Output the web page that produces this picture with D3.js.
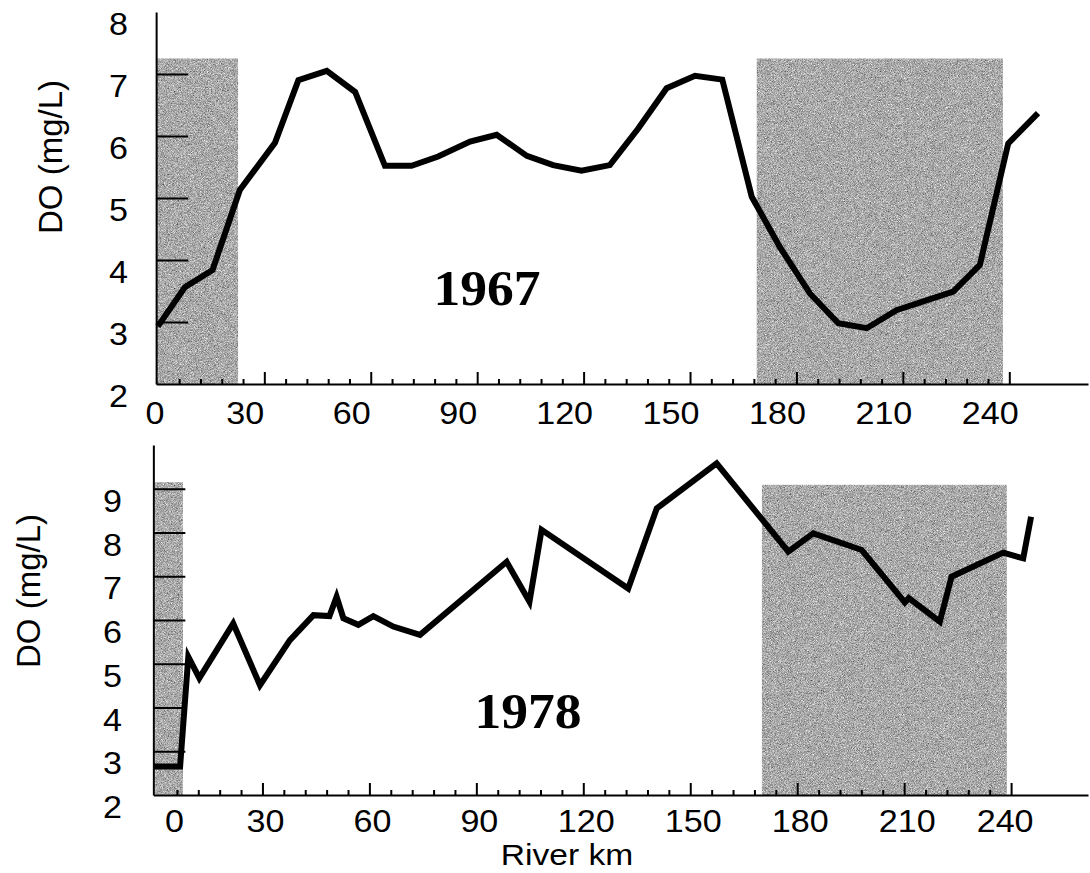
<!DOCTYPE html>
<html>
<head>
<meta charset="utf-8">
<script src="https://cdn.jsdelivr.net/npm/d3@7"></script>
<style>
  body { margin: 0; background: #fff; }
  svg { display: block; }
  .tick-label { font-family: "Liberation Sans", Arial, Helvetica, sans-serif; font-size: 31px; fill: #000; }
  .axis-title { font-family: "Liberation Sans", Arial, Helvetica, sans-serif; font-size: 33px; fill: #000; }
  .year { font-family: "Liberation Serif", "Times New Roman", serif; font-size: 51px; font-weight: bold; fill: #000; }
  .domain, .tick line { stroke: #000; stroke-width: 2; }
  .line { fill: none; stroke: #000; stroke-width: 6; stroke-linejoin: miter; stroke-linecap: butt; }
</style>
</head>
<body>
<svg width="1090" height="873"></svg>
<script>
// 1967 survey: river km and dissolved oxygen
var km1967 = [0, 7.6, 15.4, 23.1, 33.0, 39.6, 47.6, 55.6, 64.0, 71.5, 79.0, 88.0, 95.5, 104.0,
  111.4, 119.4, 127.4, 135.4, 143.4, 151.4, 159.1, 167.4, 175.3, 183.8, 191.8, 199.8,
  208.2, 216.2, 224.2, 231.7, 239.7, 248.1];
var do1967 = [2.93, 3.56, 3.84, 5.13, 5.89, 6.90, 7.05, 6.71, 5.52, 5.52, 5.67, 5.91, 6.02, 5.68,
  5.53, 5.44, 5.53, 6.12, 6.77, 6.97, 6.91, 5.02, 4.21, 3.46, 2.98, 2.90,
  3.19, 3.34, 3.49, 3.92, 5.88, 6.37];

// 1978 survey
var km1978 = [-0.4, 6.9, 9.2, 12.3, 21.8, 29.3, 37.7, 44.3, 48.8, 50.8, 52.7, 56.9, 61.1, 66.7,
  74.2, 98.5, 104.9, 108.3, 132.6, 140.6, 157.4, 177.5, 184.5, 198.1, 210.2, 211.3,
  220.0, 223.3, 237.8, 243.4, 245.6];
var do1978 = [2.65, 2.65, 5.16, 4.67, 5.92, 4.51, 5.54, 6.11, 6.09, 6.53, 6.04, 5.89, 6.09, 5.85,
  5.66, 7.33, 6.42, 8.06, 6.72, 8.55, 9.58, 7.56, 7.98, 7.60, 6.40, 6.50,
  5.96, 6.99, 7.54, 7.41, 8.36];

// shaded reaches [start km, end km, top mg/L]
var shade1967 = [[-0.5, 22.6, 7.25], [168.8, 238.2, 7.25]];
var shade1978 = [[-0.1, 7.7, 9.15], [170.1, 238.8, 9.09]];

var xTickLabels = [0, 30, 60, 90, 120, 150, 180, 210, 240];
var yLabels1967 = [2, 3, 4, 5, 6, 7, 8];
var yLabels1978 = [2, 3, 4, 5, 6, 7, 8, 9];

var svg = d3.select("svg");

// grainy grey fill like the printed screen tone
var defs = svg.append("defs");
var f = defs.append("filter").attr("id", "grain")
  .attr("x", 0).attr("y", 0).attr("width", "100%").attr("height", "100%")
  .attr("color-interpolation-filters", "sRGB");
f.append("feTurbulence").attr("type", "fractalNoise").attr("baseFrequency", 1.3)
  .attr("numOctaves", 2).attr("seed", 4).attr("result", "noise");
f.append("feColorMatrix").attr("in", "noise").attr("type", "matrix")
  .attr("values", "0.33 0.33 0.33 0 0 0.33 0.33 0.33 0 0 0.33 0.33 0.33 0 0 0 0 0 0 1")
  .attr("result", "gray");
var ct = f.append("feComponentTransfer").attr("in", "gray").attr("result", "adj");
["feFuncR", "feFuncG", "feFuncB"].forEach(function(n) {
  ct.append(n).attr("type", "linear").attr("slope", 1.3).attr("intercept", 0.02);
});
ct.append("feFuncA").attr("type", "linear").attr("slope", 0).attr("intercept", 1);
f.append("feComposite").attr("in", "adj").attr("in2", "SourceGraphic").attr("operator", "in");

// the printed lettering is a little wider than the screen font
function widen(sel, sx) {
  sel.attr("transform", function() {
    var t = d3.select(this);
    var px = +t.attr("x"), py = +t.attr("y");
    t.attr("x", 0).attr("y", 0);
    return "translate(" + px + "," + py + ") scale(" + sx + ",1)";
  });
}

function drawPanel(cfg) {
  var x = d3.scaleLinear().domain([0, 240]).range(cfg.xRange);
  var y = d3.scaleLinear().domain(cfg.yDomain).range(cfg.yRange);
  var g = svg.append("g");

  // shaded reaches
  g.selectAll("rect.shade")
    .data(cfg.shade)
    .enter().append("rect")
      .attr("class", "shade")
      .attr("x", function(d) { return x(d[0]); })
      .attr("y", function(d) { return y(d[2]); })
      .attr("width", function(d) { return x(d[1]) - x(d[0]); })
      .attr("height", function(d) { return y(cfg.yDomain[0]) - y(d[2]); })
      .attr("fill", "#a6a6a6")
      .attr("filter", "url(#grain)");

  // x axis: line from the y axis to the right edge, ticks every 6 km pointing up
  var xLo = cfg.xStart, xHi = x.invert(cfg.xEnd);
  var xAxisScale = x.copy().domain([xLo, xHi]).range([x(xLo), x(xHi)]);
  var xAxis = g.append("g")
    .attr("transform", "translate(0," + y(cfg.yDomain[0]) + ")")
    .call(d3.axisBottom(xAxisScale)
      .tickValues(d3.range(6, 241, 6))
      .tickSizeInner(-5)
      .tickSizeOuter(0)
      .tickFormat(""));
  xAxis.selectAll(".tick line")
    .attr("y2", function(d) { return d % 30 === 0 ? -12 : -5; });

  g.selectAll("text.xlab")
    .data(xTickLabels)
    .enter().append("text")
      .attr("class", "tick-label")
      .attr("text-anchor", "middle")
      .attr("x", function(d) { return x(d) + cfg.xLabelShift(d); })
      .attr("y", y(cfg.yDomain[0]) + cfg.xLabelDy)
      .text(function(d) { return d; })
      .call(widen, 1.1);

  // y axis with inward ticks
  g.append("g")
    .attr("transform", "translate(" + x(cfg.xStart) + ",0)")
    .call(d3.axisLeft(y)
      .tickValues(d3.range(cfg.yDomain[0] + 1, cfg.yTickMax + 1))
      .tickSizeInner(-32)
      .tickSizeOuter(0)
      .tickFormat(""));

  g.selectAll("text.ylab")
    .data(cfg.yLabels)
    .enter().append("text")
      .attr("class", "tick-label")
      .attr("text-anchor", "end")
      .attr("x", cfg.yLabelX)
      .attr("y", function(d) { return y(d) + 23; })
      .text(function(d) { return d; })
      .call(widen, 1.1);

  g.append("text")
    .attr("class", "axis-title")
    .attr("text-anchor", "middle")
    .attr("transform", "translate(" + cfg.titleX + "," + cfg.titleY + ") rotate(-90)")
    .text("DO (mg/L)");

  // DO profile
  var pts = d3.zip(cfg.km, cfg.val);
  g.append("path")
    .datum(pts)
    .attr("class", "line")
    .attr("d", d3.line()
      .x(function(d) { return x(d[0]); })
      .y(function(d) { return y(d[1]); }));

  g.append("text")
    .attr("class", "year")
    .attr("text-anchor", "middle")
    .attr("x", cfg.yearX)
    .attr("y", cfg.yearY)
    .text(cfg.year)
    .call(widen, 1.05);

  return { x: x, y: y };
}

drawPanel({
  km: km1967, val: do1967, shade: shade1967, year: "1967",
  xRange: [157.9, 1009.3], xStart: -0.5, xEnd: 1088,
  yDomain: [2, 8], yRange: [384, 12], yTickMax: 7,
  yLabels: yLabels1967, yLabelX: 128,
  xLabelDy: 40, xLabelShift: function(d) { return d === 0 ? -3 : -19; },
  titleX: 62, titleY: 157, yearX: 487, yearY: 305
});

drawPanel({
  km: km1978, val: do1978, shade: shade1978, year: "1978",
  xRange: [155.5, 1011.1], xStart: -0.6, xEnd: 1088,
  yDomain: [2, 10], yRange: [795, 445], yTickMax: 9,
  yLabels: yLabels1978, yLabelX: 122,
  xLabelDy: 37, xLabelShift: function(d) { return d === 0 ? 19 : (d === 240 ? -6 : 3); },
  titleX: 40, titleY: 591, yearX: 528, yearY: 728
});

svg.append("text")
  .attr("class", "axis-title")
  .attr("text-anchor", "middle")
  .attr("x", 567)
  .attr("y", 865)
  .style("font-size", "30px")
  .text("River km")
  .call(widen, 1.12);
</script>
</body>
</html>
